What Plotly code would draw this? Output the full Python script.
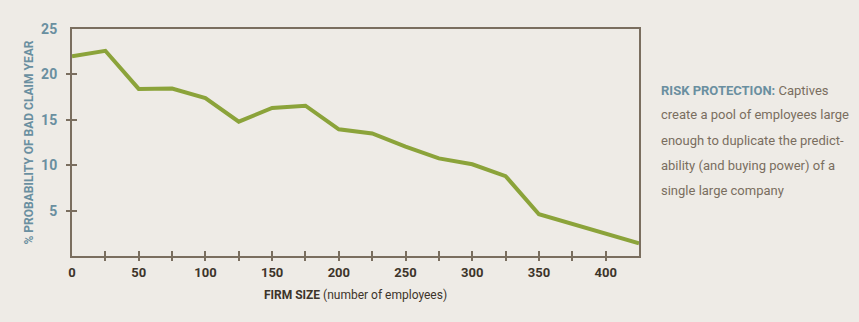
import plotly.graph_objects as go

firm_size = [0, 25, 50, 75, 100, 125, 150, 175, 200, 225, 250, 275, 300, 325, 350, 375, 400, 425]
prob_bad_year = [22.0, 22.6, 18.4, 18.45, 17.4, 14.8, 16.3, 16.55, 13.95, 13.5, 12.05, 10.75, 10.1, 8.8, 4.6, 3.5, 2.5, 1.4]

x_label_vals = [0, 50, 100, 150, 200, 250, 300, 350, 400]
x_tick_vals = [25, 50, 75, 100, 125, 150, 175, 200, 225, 250, 275, 300, 325, 350, 375, 400]
y_label_vals = [5, 10, 15, 20, 25]
y_tick_vals = [5, 10, 15, 20]

side_lines = [
    "<b><span style='color:#6a8fa0'>RISK PROTECTION:</span></b> Captives",
    "create a pool of employees large",
    "enough to duplicate the predict-",
    "ability (and buying power) of a",
    "single large company",
]

BG = "#eeebe6"
AX = "#7a6e5f"
BLUE = "#6a8fa0"
DARK = "#3d342a"
GREEN = "#8ba33a"
FONT = "Roboto, Liberation Sans, sans-serif"

fig = go.Figure()
fig.add_trace(go.Scatter(x=firm_size, y=prob_bad_year, mode="lines",
                         line=dict(color=GREEN, width=4), showlegend=False, hoverinfo="skip"))
# helper invisible traces so overlay tick axes are drawn
for xa, ya in [("x2", "y"), ("x3", "y"), ("x", "y2"), ("x", "y3")]:
    fig.add_trace(go.Scatter(x=[None], y=[None], xaxis=xa, yaxis=ya, showlegend=False, hoverinfo="skip"))

common_x = dict(range=[0, 425], showgrid=False, zeroline=False)
common_y = dict(range=[0, 25], showgrid=False, zeroline=False)

fig.update_layout(
    width=859, height=322,
    margin=dict(l=72, r=220, t=29, b=66),
    paper_bgcolor=BG, plot_bgcolor=BG,
    font=dict(family=FONT),
    xaxis=dict(**common_x, tickvals=x_label_vals, ticks="", showline=True, mirror=True,
               linecolor=AX, linewidth=2,
               tickfont=dict(size=13, color=DARK, weight="bold"), ticklabelstandoff=3,
               title=dict(text="<b>FIRM SIZE</b> (number of employees)",
                          font=dict(size=12, color=DARK), standoff=12)),
    xaxis2=dict(**common_x, overlaying="x", anchor="y", side="bottom", tickvals=x_tick_vals,
                ticks="outside", ticklen=4, tickwidth=2, tickcolor=AX,
                showticklabels=False, showline=False),
    xaxis3=dict(**common_x, overlaying="x", anchor="y", side="bottom", tickvals=x_tick_vals,
                ticks="inside", ticklen=5, tickwidth=2, tickcolor=AX,
                showticklabels=False, showline=False),
    yaxis=dict(**common_y, tickvals=y_label_vals, ticks="", showline=True, mirror=True,
               linecolor=AX, linewidth=2,
               tickfont=dict(size=14, color=BLUE, weight="bold"), ticklabelstandoff=10,
               title=dict(text="<b>% PROBABILITY OF BAD CLAIM YEAR</b>",
                          font=dict(size=12, color=BLUE), standoff=5)),
    yaxis2=dict(**common_y, overlaying="y", anchor="x", side="left", tickvals=y_tick_vals,
                ticks="outside", ticklen=5, tickwidth=2, tickcolor=AX,
                showticklabels=False, showline=False),
    yaxis3=dict(**common_y, overlaying="y", anchor="x", side="left", tickvals=y_tick_vals,
                ticks="inside", ticklen=5, tickwidth=2, tickcolor=AX,
                showticklabels=False, showline=False),
)

for i, line in enumerate(side_lines):
    fig.add_annotation(text=line, xref="paper", yref="paper",
                       x=(659 - 72) / 567, y=(256 - (90 + 25 * i)) / 227,
                       xanchor="left", yanchor="middle", showarrow=False,
                       font=dict(size=13, color=AX, family=FONT))

fig.write_html("out.html")
